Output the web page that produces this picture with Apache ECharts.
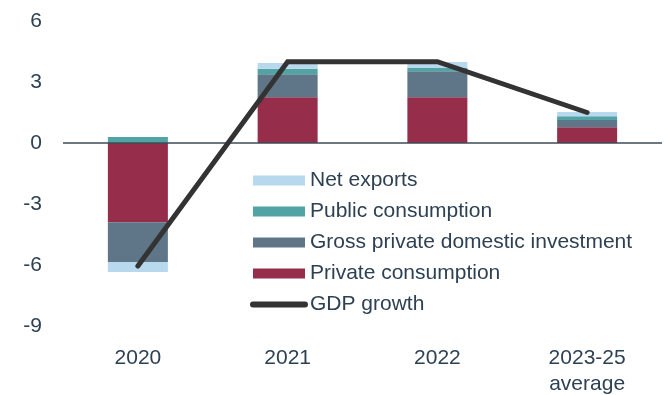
<!DOCTYPE html>
<html>
<head>
<meta charset="utf-8">
<script src="https://cdn.jsdelivr.net/npm/echarts@6/dist/echarts.min.js"></script>
<style>
  html, body { margin: 0; padding: 0; background: #ffffff; }
  #chart { width: 667px; height: 395px; }
</style>
</head>
<body>
<div id="chart"></div>
<script>
// Contributions to real GDP growth, percentage points
const categories = ['2020', '2021', '2022', '2023-25\naverage'];
const privateConsumption = [-3.9, 2.25, 2.25, 0.77];
const grossInvestment = [-1.95, 1.13, 1.28, 0.36];
const publicConsumption = [0.3, 0.27, 0.16, 0.18];
const netExports = [-0.5, 0.28, 0.29, 0.21];
const gdpGrowth = [-6.05, 4.0, 4.0, 1.5];
const yTicks = { min: -9, max: 6, step: 3 };

const textColor = '#2e4153';
const font = 'Liberation Sans, Arial, sans-serif';

const chart = echarts.init(document.getElementById('chart'), null, { renderer: 'canvas' });

const barBase = { type: 'bar', stack: 'contrib', barWidth: 60, emphasis: { disabled: true } };

chart.setOption({
  animation: false,
  textStyle: { fontFamily: font },
  grid: { left: 63, right: 5, top: 21, bottom: 69, containLabel: false, outerBoundsMode: 'none' },
  legend: {
    orient: 'vertical',
    left: 250,
    top: 170,
    padding: 0,
    itemWidth: 52,
    itemHeight: 10,
    itemGap: 10,
    textStyle: { fontSize: 21, color: textColor, fontFamily: font, lineHeight: 20 },
    data: [
      { name: 'Net exports', icon: 'rect' },
      { name: 'Public consumption', icon: 'rect' },
      { name: 'Gross private domestic investment', icon: 'rect' },
      { name: 'Private consumption', icon: 'rect' },
      {
        name: 'GDP growth',
        itemStyle: { opacity: 0 },
        lineStyle: { width: 6, color: '#333333', cap: 'round' }
      }
    ]
  },
  xAxis: {
    type: 'category',
    data: categories,
    axisLine: { show: false },
    axisTick: { show: false },
    axisLabel: { fontSize: 21, color: textColor, margin: 19, lineHeight: 26, fontFamily: font }
  },
  yAxis: {
    type: 'value',
    min: yTicks.min,
    max: yTicks.max,
    interval: yTicks.step,
    axisLine: { show: false },
    axisTick: { show: false },
    splitLine: { show: false },
    axisLabel: { fontSize: 21, color: textColor, margin: 21, fontFamily: font }
  },
  series: [
    Object.assign({}, barBase, {
      name: 'Private consumption',
      data: privateConsumption,
      itemStyle: { color: '#962d4a' },
      markLine: {
        silent: true,
        symbol: 'none',
        label: { show: false },
        lineStyle: { color: '#3d4b59', width: 1.5, type: 'solid' },
        data: [{ yAxis: 0 }]
      }
    }),
    Object.assign({}, barBase, {
      name: 'Gross private domestic investment',
      data: grossInvestment,
      itemStyle: { color: '#5f7689' }
    }),
    Object.assign({}, barBase, {
      name: 'Public consumption',
      data: publicConsumption,
      itemStyle: { color: '#52a3a3' }
    }),
    Object.assign({}, barBase, {
      name: 'Net exports',
      data: netExports,
      itemStyle: { color: '#b8d8ee' }
    }),
    {
      name: 'GDP growth',
      type: 'line',
      data: gdpGrowth,
      symbol: 'none',
      z: 5,
      lineStyle: { color: '#333333', width: 5, cap: 'round', join: 'miter' },
      itemStyle: { color: '#333333' },
      emphasis: { disabled: true }
    }
  ]
});
</script>
</body>
</html>
